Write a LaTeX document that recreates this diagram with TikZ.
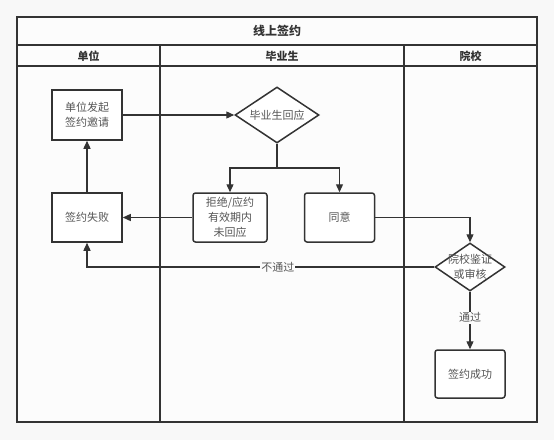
\documentclass[tikz,border=0pt]{standalone}
\usepackage{fontspec}
\setmainfont{Noto Sans CJK SC}
\usetikzlibrary{arrows.meta,shapes.geometric}
\definecolor{bgc}{HTML}{F8F8F8}
\definecolor{lanec}{HTML}{FCFCFC}
\definecolor{linec}{HTML}{333333}
\definecolor{txtc}{HTML}{555555}
\begin{document}
\begin{tikzpicture}[x=1pt,y=-1pt,
  lane/.style={draw=linec,line width=1.2pt},
  hdr/.style={font=\fontsize{11}{13}\selectfont\bfseries,text=linec},
  sq/.style={draw=linec,line width=1.5pt,fill=white,minimum width=70pt,minimum height=49pt,inner sep=0pt,align=center,font=\fontsize{11}{15}\selectfont,text=txtc},
  rsq/.style={sq,rounded corners=2.5pt},
  dia/.style={diamond,draw=linec,line width=1.5pt,fill=white,inner sep=0pt},
  arr/.style={draw=linec,line width=1.3pt,-{Triangle[length=8pt,width=7pt]}},
  lbl/.style={fill=lanec,inner sep=1pt,font=\fontsize{11}{13}\selectfont,text=txtc}]
\fill[bgc] (0,0) rectangle (554,440);
\useasboundingbox (0,0) rectangle (554,440);
% pool
\filldraw[lane,fill=lanec] (17,17) rectangle (537,422);
\draw[lane] (17,45) -- (537,45);
\draw[lane] (17,66) -- (537,66);
\draw[lane] (160,45) -- (160,422);
\draw[lane] (404,45) -- (404,422);
\node[hdr,font=\fontsize{12}{14}\selectfont\bfseries] (title) at (277,31) {线上签约};
\node[hdr] (h1) at (88.5,56) {单位};
\node[hdr] (h2) at (282,56) {毕业生};
\node[hdr] (h3) at (470.5,56) {院校};
% nodes
\node[sq,minimum height=50pt] (A) at (87,115) {单位发起\\签约邀请};
\node[dia,minimum width=84pt,minimum height=56pt,
  label={[font=\fontsize{11}{15}\selectfont,text=txtc]center:毕业生回应}] (B) at (277,115) {};
\node[rsq,minimum width=74pt] (C) at (230,217.5) {拒绝/应约\\有效期内\\未回应};
\node[rsq] (D) at (339.5,217.5) {同意};
\node[sq] (E) at (87,217.5) {签约失败};
\node[dia,minimum width=70pt,minimum height=48pt,
  label={[align=center,font=\fontsize{11}{15}\selectfont,text=txtc]center:院校鉴证\\或审核}] (F) at (470,267) {};
\node[rsq,minimum height=48pt] (G) at (470,374) {签约成功};
\coordinate (S) at (277,168);
% connectors
\draw[arr] (A) -- (B);
\draw[arr] (B.south) -- (S) -| (C.north);
\draw[arr] (S) -| (D.north);
\draw[arr] (C) -- (E);
\draw[arr] (E) -- (A);
\draw[arr] (D.east) -| (F.north);
\draw[arr] (F.west) -| node[lbl,pos=0.225] {不通过} (E.south);
\draw[arr] (F.south) -- node[lbl,pos=0.45] {通过} (G.north);
\end{tikzpicture}
\end{document}
